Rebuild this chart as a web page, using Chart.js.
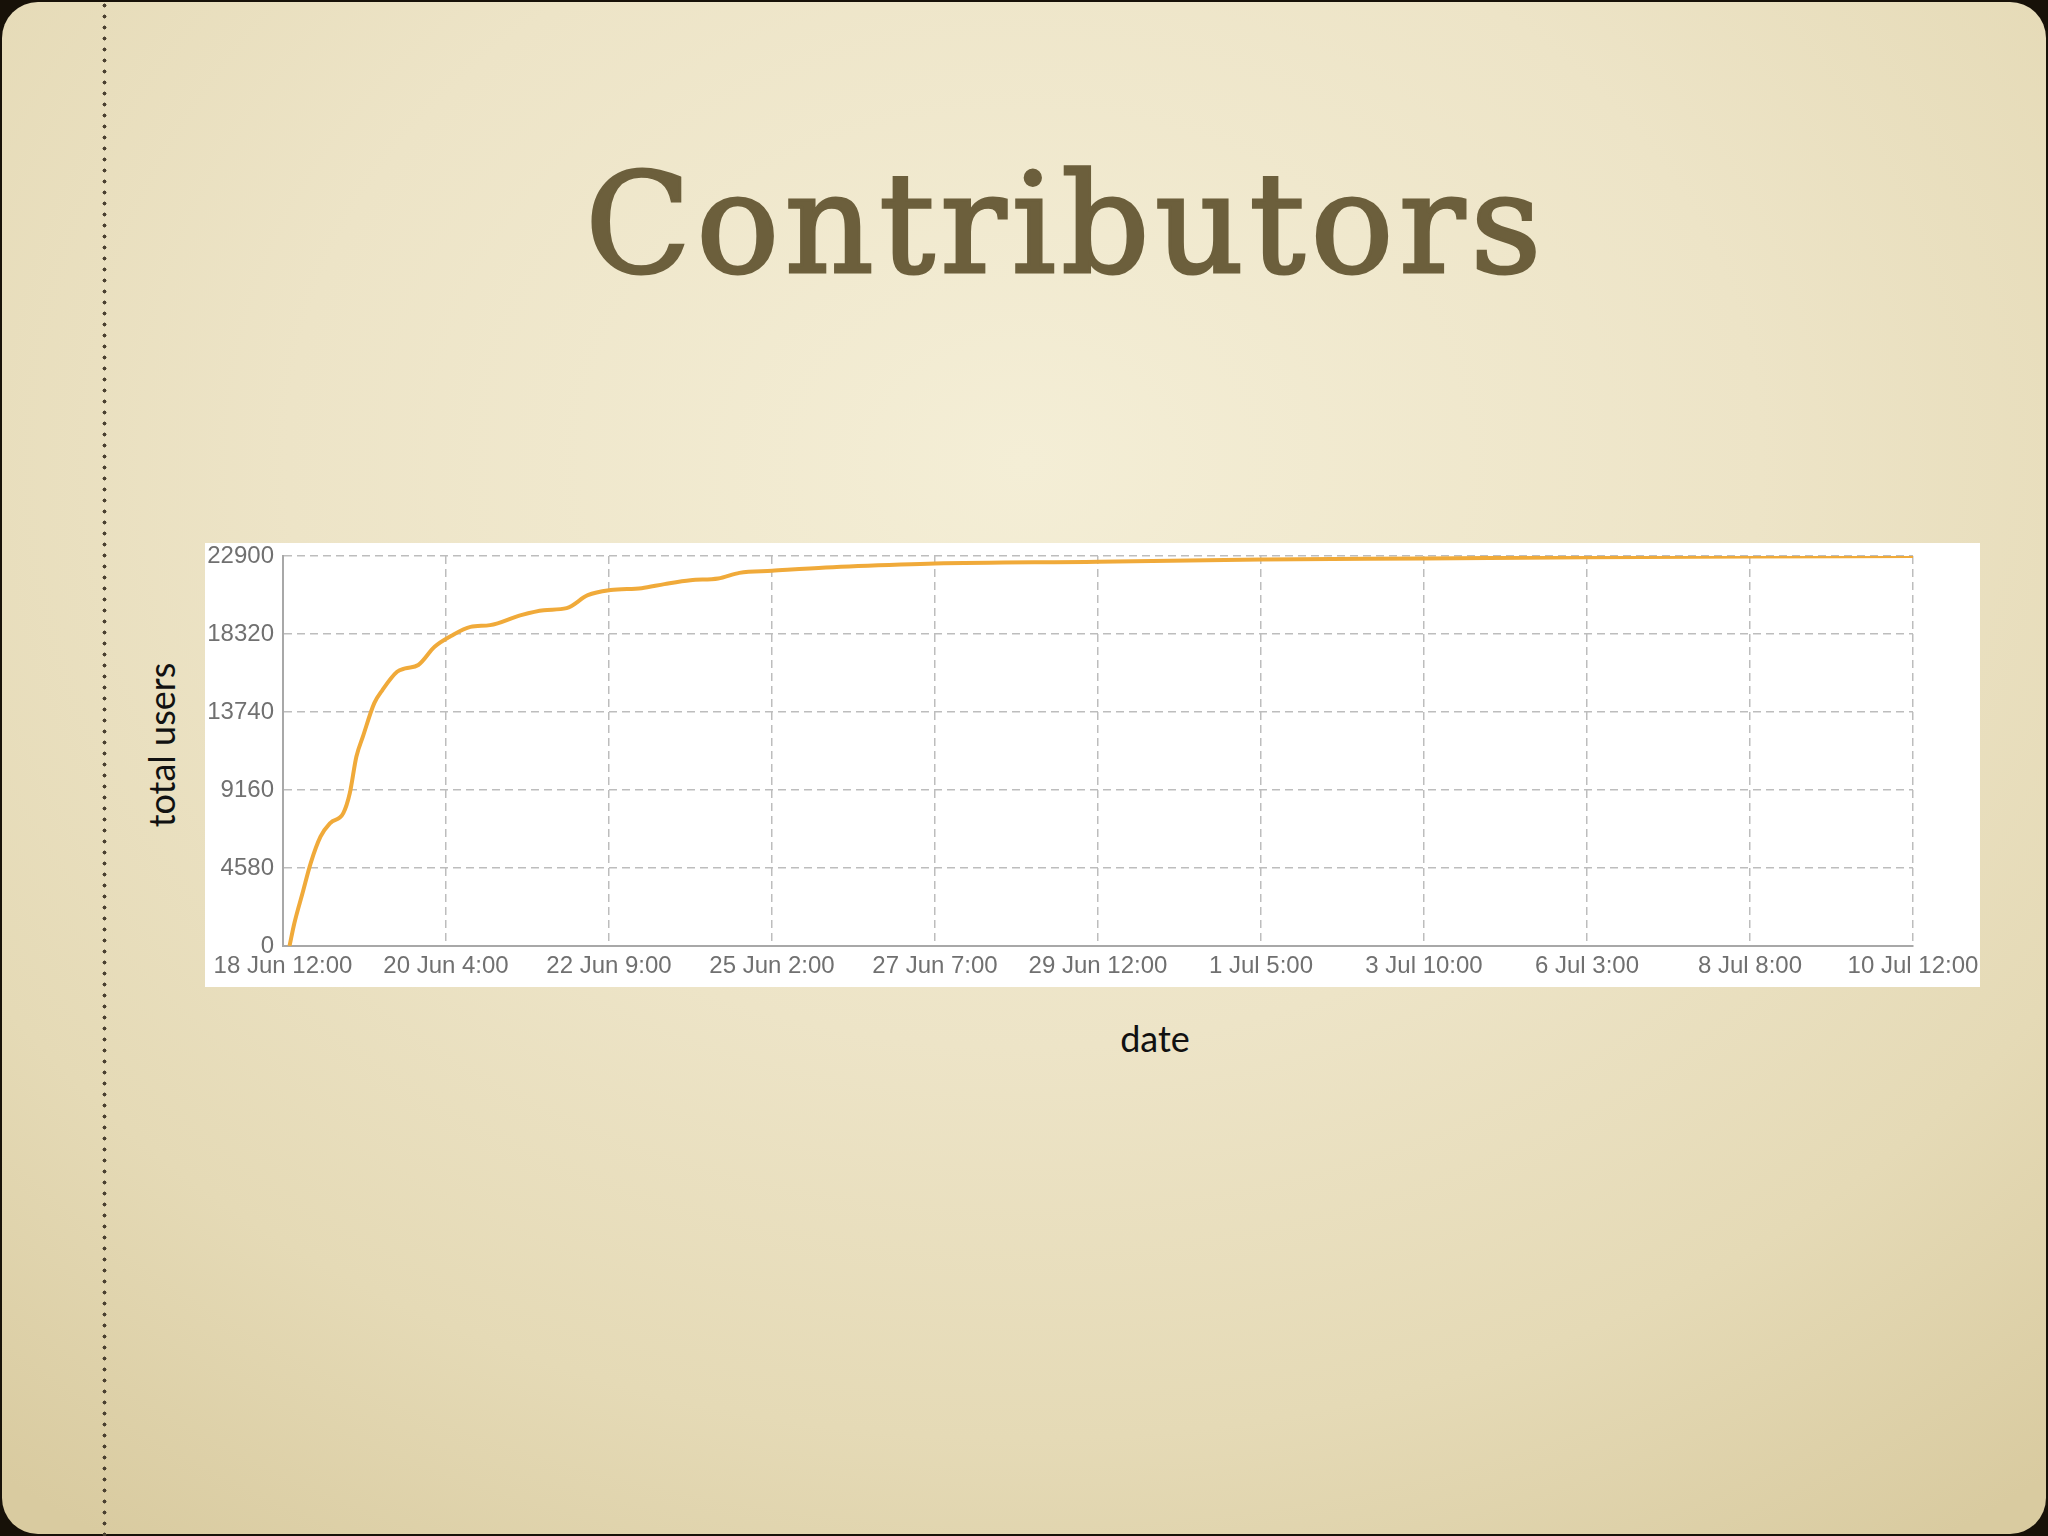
<!DOCTYPE html>
<html>
<head>
<meta charset="utf-8">
<script src="https://cdn.jsdelivr.net/npm/chart.js@4.4.1/dist/chart.umd.min.js"></script>
<style>
  html, body { margin: 0; padding: 0; }
  body { width: 2048px; height: 1536px; background: #171108; overflow: hidden; position: relative; }
  .slide {
    position: absolute; left: 2px; top: 2px; width: 2044px; height: 1532px;
    border-radius: 36px;
    background: radial-gradient(ellipse 80% 85% at 50% 30%, #f4eed6 0%, #ede4c7 45%, #e5dab6 75%, #d9cba0 100%);
  }
  .dots {
    position: absolute; left: 102px; top: 0; width: 5px; height: 1536px;
    background-image: radial-gradient(circle, #4a4030 1.8px, transparent 2.2px);
    background-size: 5px 11px;
  }
  .title {
    position: absolute; left: 0; width: 2132px; top: 156px; text-align: center;
    font-family: "DejaVu Serif", serif; font-size: 138px; line-height: 138px;
    color: #6c5f3c; -webkit-text-stroke: 3px #6c5f3c; letter-spacing: 5.5px;
  }
  .ylab {
    position: absolute; left: 161px; top: 745px; transform: translate(-50%, -50%) rotate(-90deg);
    font-family: Lato, "Open Sans", sans-serif; font-size: 36px; color: #111; white-space: nowrap;
  }
  .xlab {
    position: absolute; left: 1155px; top: 1038px; transform: translate(-50%, -50%);
    font-family: Lato, "Open Sans", sans-serif; font-size: 36px; color: #111;
  }
  .box { position: absolute; left: 205px; top: 543px; width: 1775px; height: 444px; background: #fff; }
</style>
</head>
<body>
<div class="slide"></div>
<div class="dots"></div>
<div class="title">Contributors</div>
<div class="ylab">total users</div>
<div class="xlab">date</div>
<div class="box"><canvas id="usersChart" width="1775" height="444"></canvas></div>
<script>
'use strict'

// tick labels along the date axis (one per grid line)
const dateLabels = ['18 Jun 12:00', '20 Jun 4:00', '22 Jun 9:00', '25 Jun 2:00', '27 Jun 7:00',
  '29 Jun 12:00', '1 Jul 5:00', '3 Jul 10:00', '6 Jul 3:00', '8 Jul 8:00', '10 Jul 12:00']
const userTicks = [0, 4580, 9160, 13740, 18320, 22900]

// position along the date axis, in grid steps from 18 Jun 12:00
const dateSteps = [0.04, 0.07, 0.12, 0.17, 0.23, 0.29, 0.37, 0.41, 0.45, 0.49,
  0.56, 0.61, 0.70, 0.75, 0.83, 0.93, 1.03, 1.15, 1.27, 1.46,
  1.60, 1.74, 1.87, 2.01, 2.20, 2.34, 2.50, 2.67, 2.80, 3.00,
  3.33, 3.79, 4, 5, 6, 7, 8, 9, 10]
const totalUsers = [0, 1350, 3110, 4870, 6420, 7220, 7800, 8980, 11110, 12290,
  14260, 15030, 16100, 16300, 16500, 17570, 18200, 18740, 18840, 19430,
  19720, 19840, 20600, 20900, 21010, 21250, 21480, 21580, 21910, 22030,
  22220, 22400, 22460, 22560, 22700, 22760, 22820, 22870, 22900]

const points = dateSteps.map((x, i) => ({ x: x, y: totalUsers[i] }))

const tickFont = { family: '"Liberation Sans", Arial, sans-serif', size: 24 }
const gridColor = '#bdbdbd'

new Chart(document.getElementById('usersChart'), {
    type: 'line',
    data: {
        datasets: [{
            label: 'total users',
            data: points,
            borderColor: '#f0aa3a',
            borderWidth: 4,
            pointRadius: 0,
            cubicInterpolationMode: 'monotone',
            fill: false
        }]
    },
    options: {
        responsive: false,
        animation: false,
        layout: { padding: { top: 13, right: 67, left: 0, bottom: 0 } },
        plugins: { legend: { display: false }, tooltip: { enabled: false } },
        scales: {
            x: {
                type: 'linear',
                min: 0,
                max: dateLabels.length - 1,
                afterFit: function(scale) {
                    scale.height = 41
                    scale.paddingLeft = 0
                    scale.paddingRight = 0
                },
                afterBuildTicks: function(scale) {
                    scale.ticks = dateLabels.map((l, i) => ({ value: i }))
                },
                ticks: {
                    autoSkip: false,
                    maxRotation: 0,
                    padding: 6,
                    color: '#707070',
                    font: tickFont,
                    callback: function(value) { return dateLabels[value] }
                },
                grid: { color: gridColor, lineWidth: 1.5, drawTicks: false },
                border: { display: true, color: '#a8a8a8', width: 2, dash: [8, 5] }
            },
            y: {
                min: 0,
                max: userTicks[userTicks.length - 1],
                afterFit: function(scale) {
                    scale.width = 78
                    scale.paddingTop = 0
                    scale.paddingBottom = 0
                },
                afterBuildTicks: function(scale) {
                    scale.ticks = userTicks.map(v => ({ value: v }))
                },
                ticks: {
                    padding: 9,
                    color: '#707070',
                    font: tickFont,
                    callback: function(value) { return String(value) }
                },
                grid: { color: gridColor, lineWidth: 1.5, drawTicks: false },
                border: { display: true, color: '#a8a8a8', width: 2, dash: [8, 5] }
            }
        }
    }
})
</script>
</body>
</html>
